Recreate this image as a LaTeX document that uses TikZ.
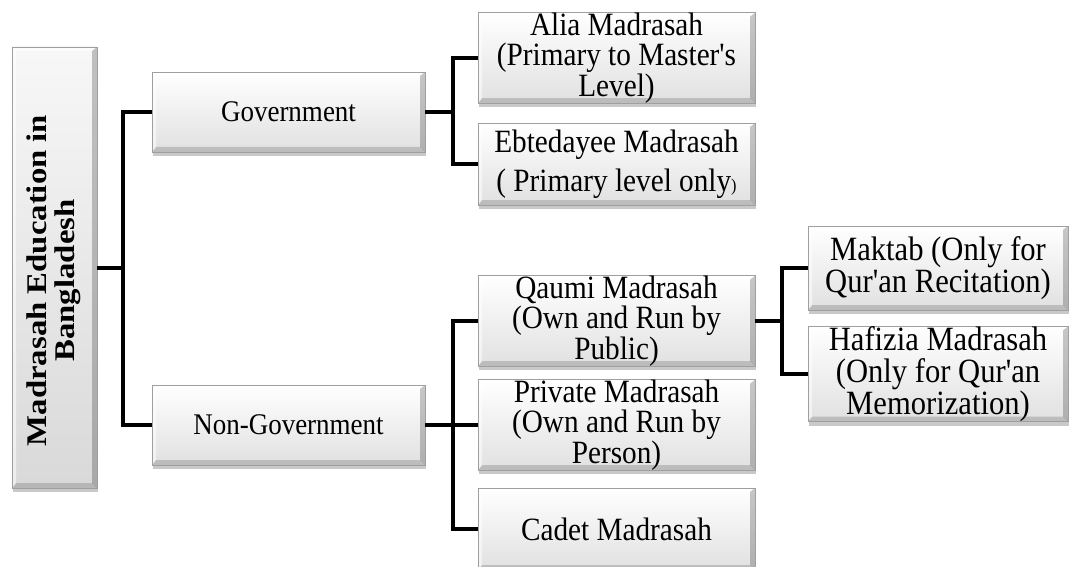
\documentclass[tikz,border=0pt]{standalone}
\usepackage{fontspec}
\newfontfamily\boxfont{Liberation Serif}[FakeStretch=0.9]
\newfontfamily\titlefont{Liberation Serif}[FakeStretch=1.15]
\usetikzlibrary{shadows}

\tikzset{
  bevelled/.style={
    draw=gray!75, line width=0.7pt, inner sep=0pt, align=center,
    top color=white, bottom color=gray!24,
    drop shadow={shadow xshift=1pt, shadow yshift=-4pt, opacity=0.3, fill=black!70},
    path picture={
      \coordinate (nw) at (path picture bounding box.north west);
      \coordinate (ne) at (path picture bounding box.north east);
      \coordinate (sw) at (path picture bounding box.south west);
      \coordinate (se) at (path picture bounding box.south east);
      \fill[white, opacity=0.75] (nw) -- (ne) -- ([shift={(-4pt,-4pt)}]ne) -- ([shift={(4pt,-4pt)}]nw) -- cycle;
      \fill[white, opacity=0.55] (nw) -- (sw) -- ([shift={(4pt,4pt)}]sw) -- ([shift={(4pt,-4pt)}]nw) -- cycle;
      \fill[black, opacity=0.22] (ne) -- (se) -- ([shift={(-5pt,5pt)}]se) -- ([shift={(-5pt,-4pt)}]ne) -- cycle;
      \fill[black, opacity=0.16] (sw) -- (se) -- ([shift={(-5pt,5pt)}]se) -- ([shift={(4pt,5pt)}]sw) -- cycle;
    }
  },
  rootbox/.style={bevelled, top color=gray!6, bottom color=gray!30,
    font=\titlefont\bfseries\fontsize{28.5}{28}\selectfont},
  levelone/.style={bevelled, minimum width=273pt, minimum height=80pt,
    font=\boxfont\fontsize{30}{31}\selectfont},
  leveltwo/.style={bevelled, minimum width=277pt, minimum height=82pt,
    font=\boxfont\fontsize{32.5}{30.5}\selectfont},
  levelthree/.style={bevelled, minimum width=260pt, minimum height=84pt,
    font=\boxfont\fontsize{34}{32}\selectfont},
  conn/.style={line width=4pt, black, line join=miter}
}

\begin{document}
\begin{tikzpicture}[x=1pt, y=-1pt]
  \useasboundingbox (0,0) rectangle (1071,567);

  % root of the tree; the trailing column space moves the title a little lower
  \node[rootbox, minimum width=85pt, minimum height=441pt] (root) at (54.5,267.5)
    {\rotatebox{90}{\begin{tabular}{@{}c@{\hspace{26pt}}}Madrasah Education in\\Bangladesh\end{tabular}}};

  % first level
  \node[levelone] (gov) at (288.5,112) {Government};
  \node[levelone] (nongov) at (288.5,425) {Non-Government};

  % government madrasahs
  \node[leveltwo] (alia) at (616.5,58) {Alia Madrasah\\(Primary to Master's\\Level)};
  \node[leveltwo] (ebt) at (616.5,164)
    {Ebtedayee Madrasah\\[9pt]( Primary level only{\fontsize{18}{18}\selectfont)}};

  % non-government madrasahs
  \node[leveltwo] (qaumi) at (616.5,321) {Qaumi Madrasah\\(Own and Run by\\Public)};
  \node[leveltwo] (private) at (616.5,425) {Private Madrasah\\(Own and Run by\\Person)};
  \node[leveltwo] (cadet) at (616.5,529) {Cadet Madrasah};

  % qaumi sub-types
  \node[levelthree] (maktab) at (938,268) {Maktab (Only for\\Qur'an Recitation)};
  \node[levelthree] (hafizia) at (938,374) {Hafizia Madrasah\\(Only for Qur'an\\Memorization)};

  % bus junctions
  \coordinate (b1) at (123,267.5);
  \coordinate (b2) at (453,112);
  \coordinate (b3) at (453,425);
  \coordinate (b4) at (782,321);

  % connectors
  \draw[conn] (gov.west) -| (b1) |- (nongov.west);
  \draw[conn] (root.east) -- (b1);

  \draw[conn] (alia.west) -| (b2) |- (ebt.west);
  \draw[conn] (gov.east) -- (b2);

  \draw[conn] (qaumi.west) -| (b3) |- (cadet.west);
  \draw[conn] (private.west) -- (b3);
  \draw[conn] (nongov.east) -- (b3);

  \draw[conn] (maktab.west) -| (b4) |- (hafizia.west);
  \draw[conn] (qaumi.east) -- (b4);
\end{tikzpicture}
\end{document}
